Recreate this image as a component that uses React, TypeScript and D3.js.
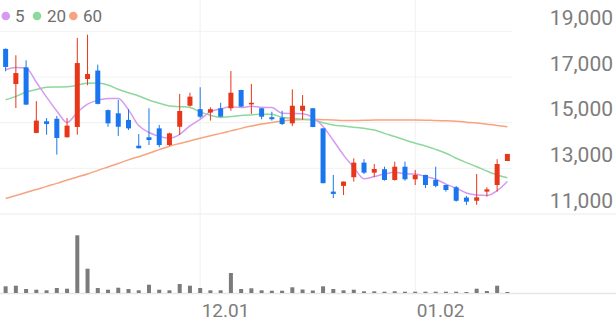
import React from 'react';
import * as d3 from 'd3';

const opens = [18230,16690,17420,14550,15060,15170,14360,14810,16910,17280,15550,15410,15120,13990,14360,14750,14020,14820,15740,15590,15440,15630,15630,16430,15800,15630,15240,15220,14970,15520,15630,14750,11980,12230,12610,13250,12810,12960,12490,13070,12520,12710,12490,12270,12170,11720,11580,11980,12270,13320];
const highs = [18250,17950,17730,15940,15200,15290,15200,18710,18850,17540,15570,15990,15590,14500,15630,14900,14560,16260,16310,16550,15670,15870,17260,16440,16690,15640,15480,15520,16460,16210,15640,14760,12710,12420,13440,13400,13190,13070,13290,13290,12930,12720,13070,12280,12230,11790,12750,12170,13400,13630];
const lows = [17250,15640,15770,14540,14470,13600,14350,14470,16640,15800,14820,14420,14680,13870,14020,13920,13980,14460,15700,15190,15090,15260,15520,15690,15380,15150,15090,14900,14850,15120,14800,12340,11690,11830,12420,12750,12610,12460,12460,12460,12270,12130,12170,11980,11540,11400,11400,11760,11980,13320];
const closes = [17440,17170,15790,15090,14940,14330,14870,17610,17130,15820,14970,14820,14750,13880,14240,14020,14530,15510,16140,15260,15590,15260,16310,15700,15870,15260,15150,14940,15740,15740,14810,12350,11880,12420,13250,12810,12970,12490,13070,12520,12710,12270,12230,12050,11580,11540,11730,12080,13190,13630];
const volumes = [670,730,400,330,270,500,430,5770,2430,500,330,530,400,270,830,330,270,900,730,500,270,270,2000,400,470,270,230,230,570,350,250,670,400,270,330,170,170,130,170,130,130,130,130,130,130,100,430,200,730,100];
const ma5 = [17320,17420,17390,16770,16120,15510,15010,15450,15810,15980,16060,16060,15560,14870,14570,14400,14320,14490,14860,15140,15480,15600,15700,15660,15720,15670,15660,15410,15400,15390,15230,14830,14220,13580,13040,12540,12640,12750,12830,12760,12750,12640,12520,12310,12130,11920,11830,11810,12020,12420];
const ma20 = [16000,16150,16340,16450,16550,16560,16570,16640,16730,16740,16650,16460,16310,16170,15990,15850,15730,15700,15660,15470,15320,15230,15270,15310,15340,15370,15370,15230,15190,15150,15120,15000,14900,14850,14800,14750,14680,14530,14390,14240,14100,13980,13830,13660,13440,13250,13070,12880,12710,12590];
const ma60 = [11680,11810,11940,12070,12210,12340,12490,12620,12750,12910,13060,13210,13370,13510,13660,13820,13970,14090,14200,14320,14430,14530,14640,14750,14850,14940,15010,15070,15120,15140,15140,15130,15120,15090,15090,15100,15120,15120,15120,15120,15120,15110,15090,15080,15060,15020,14980,14930,14880,14820];
const yTicks = [11000, 13000, 15000, 17000, 19000];
const xTickIdx = [19, 40];
const xTickLabels = ['12.01', '01.02'];
const legendLabels = ['5', '20', '60'];

const RED = '#e8361a';
const BLUE = '#1a76ee';
const MA_COLORS = ['#d69af0', '#8dd89c', '#f6a47f'];
const FONT = 'Roboto, "Noto Sans", sans-serif';

export default function App() {
  const W = 616, H = 321;
  const plotRight = 512;
  const idx = d3.range(opens.length);
  const x = d3.scaleBand<number>().domain(idx).range([0.5, 512.5]).padding(0);
  const cx = (i: number) => (x(i) as number) + x.bandwidth() / 2;
  const y = d3.scaleLinear().domain([11000, 19000]).range([214, 31.3]);
  const yv = d3.scaleLinear().domain([0, 6000]).range([293, 233]);
  const bodyW = 5;
  const volW = 4;

  const line = (arr: number[]) =>
    d3.line<number>().x((_, i) => cx(i)).y((d) => y(d)).curve(d3.curveMonotoneX)(arr) || '';

  return (
    <svg width={W} height={H} style={{ position: 'absolute', left: 0, top: 0, display: 'block', background: '#fff' }} fontFamily={FONT}>
      {/* horizontal gridlines */}
      {yTicks.map((t) => (
        <line key={'g' + t} x1={0} x2={t === 11000 ? W : plotRight} y1={y(t)} y2={y(t)}
          stroke={t === 11000 ? '#ebebeb' : '#f2f2f2'} strokeWidth={1} />
      ))}
      {/* vertical gridlines */}
      {xTickIdx.map((i) => (
        <line key={'v' + i} x1={cx(i)} x2={cx(i)} y1={0} y2={293} stroke="#f0f0f0" strokeWidth={1} />
      ))}
      {/* volume baseline */}
      <line x1={0} x2={W} y1={293.5} y2={293.5} stroke="#e6e6e6" strokeWidth={1.5} />
      {/* y labels */}
      {yTicks.map((t) => (
        <text key={'yl' + t} x={613} y={y(t) - 6.3} textAnchor="end" fontSize={21} fill="#7d7d7d">
          {d3.format(',')(t)}
        </text>
      ))}
      {/* x labels */}
      {xTickIdx.map((i, k) => (
        <text key={'xl' + i} x={cx(i) + 1.5} y={316.5} textAnchor="start" fontSize={19} fill="#7d7d7d">
          {xTickLabels[k]}
        </text>
      ))}
      {/* MA lines */}
      {[ma60, ma20, ma5].map((arr, k) => (
        <path key={'ma' + k} d={line(arr)} fill="none" stroke={MA_COLORS[2 - k]} strokeWidth={1.5} />
      ))}
      {/* candles */}
      {idx.map((i) => {
        const up = closes[i] >= opens[i];
        const c = up ? RED : BLUE;
        const top = y(Math.max(opens[i], closes[i]));
        const bot = y(Math.min(opens[i], closes[i]));
        return (
          <g key={'c' + i}>
            <line x1={cx(i)} x2={cx(i)} y1={y(highs[i])} y2={y(lows[i])} stroke={c} strokeWidth={1} />
            <rect x={cx(i) - bodyW / 2} y={top} width={bodyW} height={Math.max(1.5, bot - top)} fill={c} />
          </g>
        );
      })}
      {/* volume */}
      {idx.map((i) => (
        <rect key={'v' + i} x={cx(i) - volW / 2} y={yv(volumes[i])} width={volW}
          height={293 - yv(volumes[i])} fill="#7b7b7b" />
      ))}
      {/* legend */}
      {legendLabels.map((l, k) => {
        const pos = [[5.8, 15], [37, 47], [73.3, 83]][k];
        return (
          <g key={'lg' + k}>
            <circle cx={pos[0]} cy={16} r={4.3} fill={MA_COLORS[k]} />
            <text x={pos[1]} y={21.7} fontSize={17} fill="#6e6e6e">{l}</text>
          </g>
        );
      })}
    </svg>
  );
}
